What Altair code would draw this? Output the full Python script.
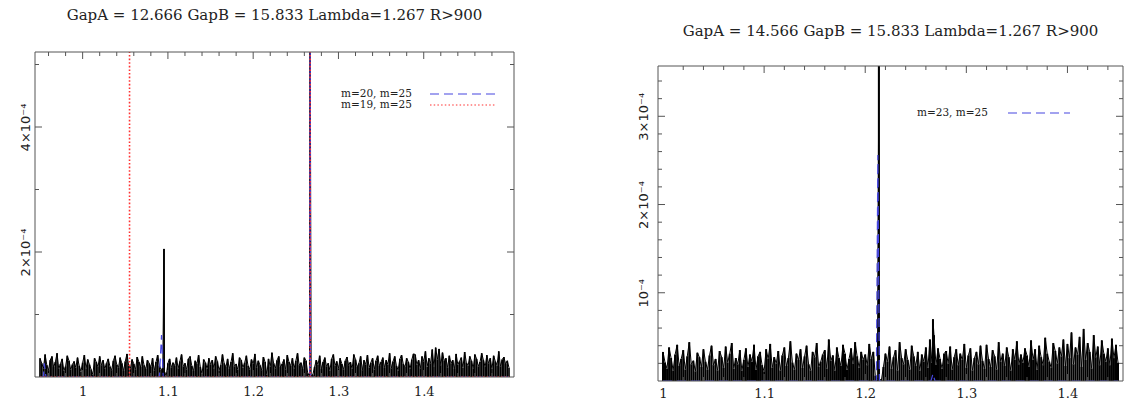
import altair as alt
import pandas as pd

# ---------------- text ----------------
TITLE_A = "GapA = 12.666 GapB = 15.833 Lambda=1.267 R>900"
TITLE_B = "GapA = 14.566 GapB = 15.833 Lambda=1.267 R>900"

# ---------------- panel A (left) : values in units of 1e-6 ----------------
A_X0, A_STEP = 0.95, 0.002
A_NOISE = [
    30, 22, 14, 36, 19, 11, 27, 33, 16, 24, 38, 13, 21, 29, 10, 17, 34, 26, 12, 20,
    25, 15, 31, 18, 9, 23, 35, 14, 28, 20, 12, 4, 30, 24, 16, 33, 19, 27, 13, 22,
    29, 17, 11, 26, 34, 20, 15, 31, 22, 10, 25, 37, 18, 14, 28, 21, 12, 32, 24, 16,
    33, 19, 13, 27, 22, 16, 30, 10, 24, 35, 18, 12, 14, 8, 2, 22, 29, 15, 23, 18,
    31, 14, 25, 36, 17, 22, 12, 29, 33, 18, 10, 26, 21, 35, 16, 5, 28, 23, 13, 30,
    20, 27, 14, 33, 25, 11, 19, 36, 22, 16, 29, 13, 24, 38, 17, 21, 12, 31, 27, 15,
    23, 34, 18, 12, 28, 21, 37, 15, 26, 19, 11, 32, 24, 4, 29, 17, 39, 22, 14, 27,
    33, 16, 21, 28, 12, 35, 24, 18, 30, 14, 26, 38, 19, 23, 13, 31, 26, 6, 2, 2,
    4, 16, 27, 20, 34, 13, 24, 31, 17, 22, 11, 29, 36, 18, 25, 14, 30, 21, 12, 26,
    32, 19, 24, 13, 36, 28, 16, 22, 33, 11, 27, 20, 35, 15, 23, 30, 12, 26, 34, 18,
    24, 31, 15, 27, 20, 38, 14, 25, 33, 18, 11, 29, 35, 21, 16, 30, 24, 13, 28, 37,
    36, 20, 27, 14, 33, 25, 41, 17, 30, 22, 44, 16, 47, 28, 45, 19, 39, 26, 30, 15,
    34, 22, 27, 13, 37, 20, 25, 31, 15, 40, 23, 18, 33, 26, 14, 36, 29, 17, 24, 38,
    27, 16, 35, 22, 30, 13, 34, 25, 19, 41, 17, 28, 32, 21, 26, 15,
]
A_PEAK_X = [1.0954, 1.2668]
A_PEAK_Y = [205, 600]
A_BLUE_X = [0.95, 0.954, 0.955, 0.957, 1.090, 1.0925, 1.0945, 1.2664, 1.2668, 1.2672, 1.5]
A_BLUE_Y = [0, 0, 22, 0, 0, 67, 0, 0, 600, 0, 0]
# red dotted curve: flat at zero with two spikes (drawn as separate up-strokes)
A_RED_SEG = [0, 0, 1, 1, 2, 2, 3, 3, 4, 4]
A_RED_X = [0.95, 1.055, 1.055, 1.055, 1.055, 1.2668, 1.2668, 1.2668, 1.2668, 1.5]
A_RED_Y = [0, 0, 0, 600, 0, 0, 0, 600, 0, 0]
A_XDOM = [0.95, 1.5]
A_YDOM = [0, 520]
A_XMAJ = [1.0, 1.1, 1.2, 1.3, 1.4]
A_XMIN = [0.96, 0.98, 1.02, 1.04, 1.06, 1.08, 1.12, 1.14, 1.16, 1.18, 1.22, 1.24, 1.26,
          1.28, 1.32, 1.34, 1.36, 1.38, 1.42, 1.44, 1.46, 1.48]
A_XLAB = [1.0, 1.1, 1.2, 1.3, 1.4]
A_YMAJ = [200, 400]
A_YMIN = [100, 300, 500]
A_YLAB = ["2×10⁻⁴", "4×10⁻⁴"]
A_LEGEND = ["m=20, m=25", "m=19, m=25"]

# ---------------- panel B (right) ----------------
B_X0, B_STEP = 1.0, 0.002
B_NOISE = [
    33, 21, 14, 38, 26, 12, 30, 41, 17, 25, 35, 13, 28, 44, 19, 23, 11, 32, 27, 16,
    36, 22, 13, 29, 40, 18, 25, 12, 34, 27, 15, 39, 21, 31, 43, 14, 26, 19, 35, 12,
    24, 37, 16, 30, 22, 41, 13, 28, 33, 18, 11, 36, 25, 42, 15, 27, 20, 34, 12, 29,
    38, 17, 26, 45, 21, 13, 31, 24, 36, 15, 28, 40, 19, 12, 33, 27, 43, 16, 22, 30,
    35, 14, 47, 23, 29, 12, 38, 26, 17, 41, 31, 13, 25, 37, 20, 44, 28, 15, 33, 24,
    30, 18, 42, 25, 33, 6, 2, 2, 1, 16, 31, 22, 39, 14, 27, 35, 12, 44, 26, 19,
    36, 24, 13, 40, 28, 17, 33, 12, 30, 22, 38, 15, 47, 21, 52, 18, 37, 25, 14, 31,
    34, 20, 39, 13, 27, 36, 18, 31, 24, 42, 15, 29, 37, 12, 26, 33, 19, 40, 23, 14,
    41, 25, 16, 35, 28, 13, 44, 22, 31, 17, 38, 27, 12, 36, 24, 45, 19, 30, 21, 37,
    29, 16, 46, 24, 36, 13, 40, 27, 18, 49, 31, 22, 15, 43, 34, 20, 38, 28, 47, 17,
    42, 26, 55, 19, 38, 30, 50, 16, 59, 24, 43, 33, 14, 52, 27, 39, 18, 46, 31, 22,
    37, 18, 48, 26, 41, 21,
]
B_PEAK_X = [1.2135, 1.267]
B_PEAK_Y = [357, 70]
B_BLUE_X = [1.0, 1.211, 1.2125, 1.214, 1.265, 1.267, 1.269, 1.45]
B_BLUE_Y = [0, 0, 256, 0, 0, 8, 0, 0]
B_XDOM = [1.0, 1.45]
B_YDOM = [0, 357]
B_XMAJ = [1.1, 1.2, 1.3, 1.4]
B_XMIN = [1.02, 1.04, 1.06, 1.08, 1.12, 1.14, 1.16, 1.18, 1.22, 1.24, 1.26, 1.28,
          1.32, 1.34, 1.36, 1.38, 1.42, 1.44]
B_XLAB = [1.0, 1.1, 1.2, 1.3, 1.4]
B_YMAJ = [100, 200, 300]
B_YMIN = [20, 40, 60, 80, 120, 140, 160, 180, 220, 240, 260, 280, 320, 340]
B_YLAB = ["10⁻⁴", "2×10⁻⁴", "3×10⁻⁴"]
B_LEGEND = ["m=23, m=25"]

BLUE = "#4646e0"
RED = "#ff3030"
FRAME = "#555555"
SERIF = "DejaVu Serif"


def label_expr(vals, labels):
    parts = " : ".join(f"datum.value == {v} ? '{t}'" for v, t in zip(vals, labels))
    return parts + " : ''"


def panel(x0, step, noise, peak_x, peak_y, blue_x, blue_y, red_seg, red_x, red_y,
          xdom, ydom, W, H, top, barw, xmaj, xmin, xlab, ymaj, ymin, ylab,
          title, toffset, legend, leg_pos, ylabpad, xlabpad):
    nx = [round(x0 + i * step, 4) for i in range(len(noise))]
    black = pd.DataFrame({"x": nx + peak_x, "y": noise + peak_y}).sort_values("x")
    xs = alt.Scale(domain=xdom, nice=False, zero=False)
    ys = alt.Scale(domain=ydom, nice=False, zero=True, range=[H, top])
    xax = alt.Axis(values=xlab, format="~g", ticks=False, domain=False, grid=False,
                   labelFont=SERIF, labelFontSize=13, labelColor="#222",
                   labelPadding=xlabpad, title=None)
    yax = alt.Axis(values=ymaj, labelExpr=label_expr(ymaj, ylab), ticks=False,
                   domain=False, grid=False, labelFont="DejaVu Sans", labelFontSize=13,
                   labelColor="#222", labelAngle=270, labelAlign="center",
                   labelBaseline="bottom", labelPadding=ylabpad, title=None)

    layers = [
        alt.Chart(black).mark_bar(color="black", size=barw, clip=True).encode(
            x=alt.X("x:Q", scale=xs, axis=xax),
            y=alt.Y("y:Q", scale=ys, axis=yax, stack=None)),
        alt.Chart(black).mark_line(color="black", strokeWidth=1, clip=True).encode(
            x=alt.X("x:Q", scale=xs), y=alt.Y("y:Q", scale=ys), order="x:Q"),
    ]
    blue = pd.DataFrame({"x": blue_x, "y": blue_y})
    layers.append(alt.Chart(blue).mark_line(color=BLUE, strokeWidth=1.2,
                                            strokeDash=[9, 5], clip=True).encode(
        x=alt.X("x:Q", scale=xs), y=alt.Y("y:Q", scale=ys), order="x:Q"))
    if red_x:
        red = pd.DataFrame({"seg": red_seg, "x": red_x, "y": red_y,
                            "i": list(range(len(red_x)))})
        layers.append(alt.Chart(red).mark_line(stroke=RED, color=RED, strokeWidth=1.6,
                                               strokeDash=[1.6, 2], clip=True).encode(
            x=alt.X("x:Q", scale=xs), y=alt.Y("y:Q", scale=ys), detail="seg:N",
            order="i:Q"))

    # frame
    fr = alt.Chart(pd.DataFrame({"k": [0]})).mark_rule(color=FRAME, strokeWidth=1)
    layers += [
        fr.encode(x=alt.value(0), x2=alt.value(W), y=alt.value(top)),
        fr.encode(x=alt.value(0), x2=alt.value(W), y=alt.value(H)),
        fr.encode(x=alt.value(0), y=alt.value(top), y2=alt.value(H)),
        fr.encode(x=alt.value(W), y=alt.value(top), y2=alt.value(H)),
    ]

    # inward tick marks on all four sides
    def xticks(vals, L):
        d = pd.DataFrame({"x": vals})
        b = alt.Chart(d).mark_rule(color=FRAME, strokeWidth=1)
        return [b.encode(x=alt.X("x:Q", scale=xs), y=alt.value(H), y2=alt.value(H - L)),
                b.encode(x=alt.X("x:Q", scale=xs), y=alt.value(top), y2=alt.value(top + L))]

    def yticks(vals, L):
        d = pd.DataFrame({"y": vals})
        b = alt.Chart(d).mark_rule(color=FRAME, strokeWidth=1)
        return [b.encode(y=alt.Y("y:Q", scale=ys), x=alt.value(0), x2=alt.value(L)),
                b.encode(y=alt.Y("y:Q", scale=ys), x=alt.value(W), x2=alt.value(W - L))]

    layers += xticks(xmaj, 7) + xticks(xmin, 4) + yticks(ymaj, 7) + yticks(ymin, 4)

    # legend (text then line sample, as in the original)
    tx, ty, lx1, lx2 = leg_pos
    styles = [(BLUE, [9, 5], 1.2), (RED, [1.5, 2.2], 1.2)]
    for i, lab in enumerate(legend):
        yy = ty + 11 * i
        col, dash, sw = styles[i]
        layers.append(alt.Chart(pd.DataFrame({"t": [lab]})).mark_text(
            align="left", baseline="middle", font=SERIF, fontSize=10.5, color="#222").encode(
            text="t:N", x=alt.value(tx), y=alt.value(yy)))
        layers.append(alt.Chart(pd.DataFrame({"s": [lab + " sample"]})).mark_rule(
            color=col, strokeDash=dash, strokeWidth=sw).encode(
            x=alt.value(lx1), x2=alt.value(lx2), y=alt.value(yy)))

    ttl = alt.TitleParams(text=title, font=SERIF, fontSize=15, fontWeight="normal",
                          color="#222", anchor="middle", offset=toffset)
    return alt.layer(*layers).properties(width=W, height=H, title=ttl)


left = panel(A_X0, A_STEP, A_NOISE, A_PEAK_X, A_PEAK_Y, A_BLUE_X, A_BLUE_Y,
             A_RED_SEG, A_RED_X, A_RED_Y,
             A_XDOM, A_YDOM, 479, 325, 0, 1.7, A_XMAJ, A_XMIN, A_XLAB, A_YMAJ, A_YMIN, A_YLAB,
             TITLE_A, 29, A_LEGEND, (306, 42, 395, 460), 3, 8)
right = panel(B_X0, B_STEP, B_NOISE, B_PEAK_X, B_PEAK_Y, B_BLUE_X, B_BLUE_Y, [], [], [],
              B_XDOM, B_YDOM, 465, 329, 14, 2.0, B_XMAJ, B_XMIN, B_XLAB, B_YMAJ, B_YMIN, B_YLAB,
              TITLE_B, 13, B_LEGEND, (259, 61, 350, 412), 8, 6)

chart = alt.hconcat(left, right, spacing=122).properties(
    padding={"left": 18, "top": 7, "right": 0, "bottom": 0},
    background="white",
).configure_view(stroke=None)

chart.save("out.html", embed_options={"renderer": "svg", "actions": False})
